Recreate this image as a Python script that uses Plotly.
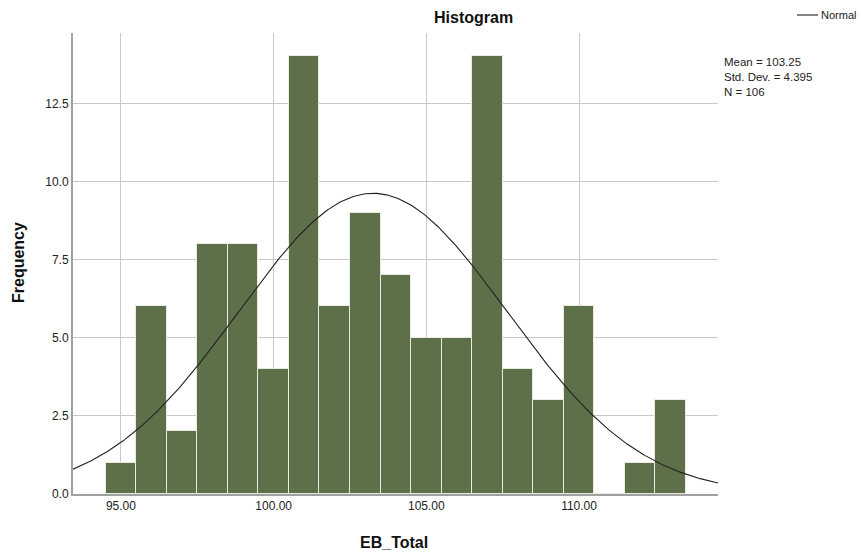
import numpy as np
import plotly.graph_objects as go

bin_centers = [95, 96, 97, 98, 99, 100, 101, 102, 103, 104, 105, 106, 107, 108, 109, 110, 111, 112, 113]
frequencies = [1, 6, 2, 8, 8, 4, 14, 6, 9, 7, 5, 5, 14, 4, 3, 6, 0, 1, 3]
mean = 103.25
std_dev = 4.395
n_total = 106
bin_width = 1.0
x_ticks = [95, 100, 105, 110]
x_tick_labels = ["95.00", "100.00", "105.00", "110.00"]
y_ticks = [0, 2.5, 5, 7.5, 10, 12.5]
y_tick_labels = ["0.0", "2.5", "5.0", "7.5", "10.0", "12.5"]
stats_lines = ["Mean = 103.25", "Std. Dev. = 4.395", "N = 106"]

x_range = [93.43, 114.55]
y_range = [0, 14.75]

FONT = "Arial, Liberation Sans, sans-serif"
W, H = 861, 553
L, R, T, B = 73, 143, 33, 59
PW, PH = W - L - R, H - T - B


def px_x(p):
    return (p - L) / PW


def px_y(p):
    return (H - B - p) / PH


xs = np.linspace(x_range[0], x_range[1], 400)
ys = n_total * bin_width / (std_dev * np.sqrt(2 * np.pi)) * np.exp(-0.5 * ((xs - mean) / std_dev) ** 2)

fig = go.Figure()
fig.add_trace(go.Bar(
    x=bin_centers, y=frequencies, width=bin_width,
    marker=dict(color="#5d7049", line=dict(color="#e8ece0", width=1)),
    showlegend=False, hoverinfo="x+y",
))
fig.add_trace(go.Scatter(
    x=xs, y=ys, mode="lines", name="Normal",
    line=dict(color="#222222", width=1.1), showlegend=False,
))

fig.update_layout(
    width=W, height=H,
    margin=dict(l=L, r=R, t=T, b=B, autoexpand=False),
    paper_bgcolor="white", plot_bgcolor="white",
    font=dict(family=FONT, size=12, color="#222222"),
    bargap=0,
    showlegend=False,
    xaxis=dict(
        range=x_range, tickvals=x_ticks, ticktext=x_tick_labels,
        showgrid=True, gridcolor="#c8c8c8", gridwidth=1,
        showline=True, linecolor="#a0a0a0", linewidth=2,
        ticks="", zeroline=False, tickfont=dict(size=12), automargin=False,
    ),
    yaxis=dict(
        range=y_range, tickvals=y_ticks, ticktext=y_tick_labels,
        showgrid=True, gridcolor="#c8c8c8", gridwidth=1,
        showline=True, linecolor="#a0a0a0", linewidth=2,
        ticks="", zeroline=False, tickfont=dict(size=12), automargin=False,
    ),
)

# Title and axis titles
fig.add_annotation(xref="paper", yref="paper", x=px_x(474), y=px_y(18),
                   xanchor="center", yanchor="middle", showarrow=False,
                   text="<b>Histogram</b>", font=dict(size=16, color="#111111"))
fig.add_annotation(xref="paper", yref="paper", x=px_x(394), y=px_y(542),
                   xanchor="center", yanchor="middle", showarrow=False,
                   text="<b>EB_Total</b>", font=dict(size=16, color="#111111"))
fig.add_annotation(xref="paper", yref="paper", x=px_x(18), y=px_y(263),
                   xanchor="center", yanchor="middle", showarrow=False, textangle=-90,
                   text="<b>Frequency</b>", font=dict(size=16, color="#111111"))

# Legend (manual)
fig.add_shape(type="line", xref="paper", yref="paper",
              x0=px_x(797), x1=px_x(818), y0=px_y(15), y1=px_y(15),
              line=dict(color="#222222", width=1.1))
fig.add_annotation(xref="paper", yref="paper", x=px_x(819), y=px_y(15),
                   xanchor="left", yanchor="middle", showarrow=False,
                   text="Normal", font=dict(size=11, color="#222222"))

# Stats box
fig.add_annotation(
    xref="paper", yref="paper",
    x=px_x(722), y=px_y(77), xanchor="left", yanchor="middle",
    text="<br>".join(stats_lines), showarrow=False, align="left",
    font=dict(size=11.5, color="#222222"),
)

fig.write_html("out.html", config={"displayModeBar": False},
               post_script="document.body.style.margin='0';document.body.style.padding='0';")
